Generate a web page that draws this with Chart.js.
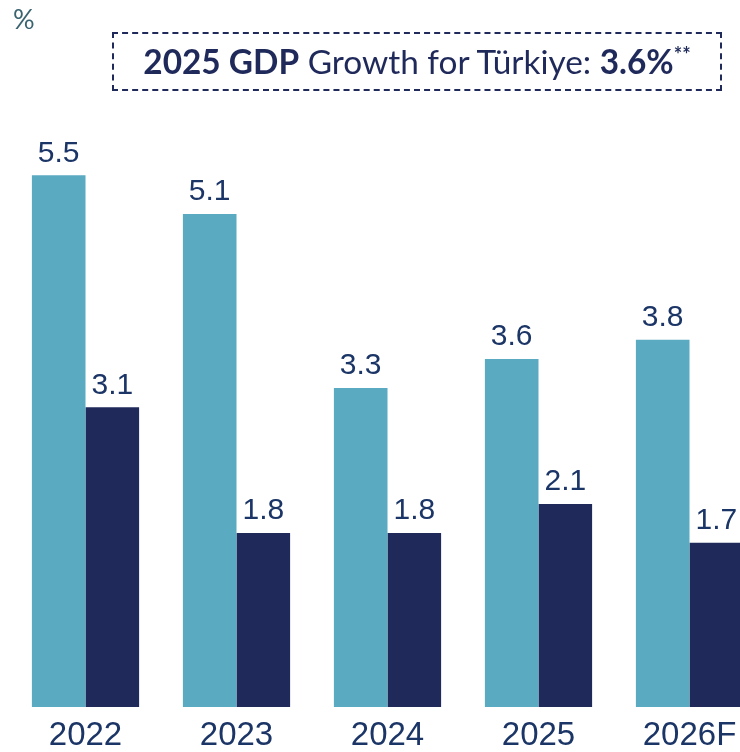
<!DOCTYPE html>
<html>
<head>
<meta charset="utf-8">
<script src="https://cdn.jsdelivr.net/npm/chart.js@4"></script>
<style>
    html, body { margin: 0; padding: 0; background: #fff; overflow: hidden; }
    #wrap { position: relative; width: 765px; height: 752px; }
    #unit { position: absolute; left: 13px; top: 2px; font: 400 27px Lato, sans-serif; color: #3a6370; }
    #note {
        position: absolute; left: 112px; top: 32px; width: 606px; height: 55px;
        border: 2px dashed #1f2a5b; color: #1f2a5b;
        font: 400 33.4px Lato, sans-serif; line-height: 55px; text-align: center;
    }
    #note b { font-weight: 700; }
    #note sup { font-size: 20px; font-weight: 700; line-height: 0; vertical-align: 12px; }
</style>
</head>
<body>
<div id="wrap">
    <canvas id="chart" width="765" height="752"></canvas>
    <div id="unit">%</div>
    <div id="note"><b>2025 GDP</b> Growth for Türkiye: <b>3.6%</b><sup>**</sup></div>
</div>
<script>
const years = ['2022', '2023', '2024', '2025', '2026F'],
    turkiye = [5.5, 5.1, 3.3, 3.6, 3.8],
    other = [3.1, 1.8, 1.8, 2.1, 1.7];

const textColor = '#1b3566';

// labels above every bar
const valueLabels = {
    id: 'valueLabels',
    afterDatasetsDraw(chart) {
        const ctx = chart.ctx;
        ctx.save();
        ctx.font = '30px "Liberation Sans", sans-serif';
        ctx.fillStyle = textColor;
        ctx.textAlign = 'center';
        ctx.textBaseline = 'bottom';
        chart.data.datasets.forEach((ds, i) => {
            chart.getDatasetMeta(i).data.forEach((bar, j) => {
                ctx.fillText(ds.data[j].toFixed(1), bar.x, bar.y - 7);
            });
        });
        ctx.restore();
    }
};

new Chart(document.getElementById('chart'), {
    type: 'bar',
    data: {
        labels: years,
        datasets: [{
            label: 'Türkiye',
            data: turkiye,
            backgroundColor: '#5aaac2'
        }, {
            label: 'Other',
            data: other,
            backgroundColor: '#1f2a5b'
        }]
    },
    options: {
        responsive: false,
        animation: false,
        layout: { padding: { top: 127, left: 10, right: 0, bottom: 0 } },
        categoryPercentage: 0.71,
        barPercentage: 1.0,
        plugins: {
            legend: { display: false },
            tooltip: { enabled: false }
        },
        scales: {
            x: {
                grid: { display: false, drawTicks: false, tickLength: 0 },
                border: { display: false },
                afterFit(scale) { scale.height = 45; },
                ticks: {
                    color: textColor,
                    padding: 12,
                    autoSkip: false,
                    maxRotation: 0,
                    font: { family: '"Liberation Sans", sans-serif', size: 33, lineHeight: 1 }
                }
            },
            y: {
                display: false,
                min: 0,
                max: 6
            }
        }
    },
    plugins: [valueLabels]
});
</script>
</body>
</html>
